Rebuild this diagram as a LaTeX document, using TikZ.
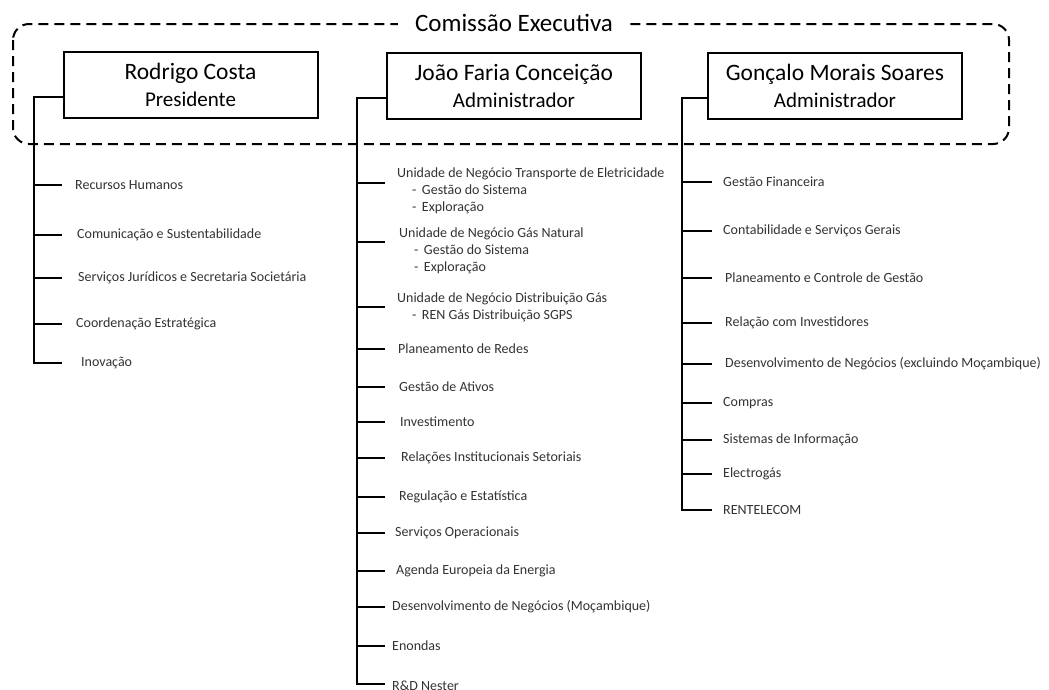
\documentclass[tikz,border=0pt]{standalone}
\usepackage{fontspec}
\setmainfont{Carlito}
\usepackage{tikz}

\tikzset{
  cabeca/.style = {draw, line width=2pt, minimum width=254pt, minimum height=66pt,
                   align=center, inner sep=0pt, font=\fontsize{23.5}{25}\selectfont},
  ramo/.style   = {line width=2pt},
  item/.style   = {anchor=west, inner sep=0pt, align=left, text=black!80,
                   font=\fontsize{14}{17}\selectfont},
}
\newcommand{\subpt}[1]{\hspace*{15pt}-\hspace{5.5pt}#1}
\newcommand{\cargo}[1]{{\fontsize{21}{25}\selectfont #1}}

\begin{document}
\begin{tikzpicture}[x=1pt, y=-1pt]
  \useasboundingbox[fill=white] (0,0) rectangle (1049,689);

  % comissao executiva
  \draw[line width=2pt, dash pattern=on 10pt off 6pt, rounded corners=16pt]
    (13,24) rectangle (1009,144);
  \node[fill=white, inner xsep=17pt, inner ysep=5pt, font=\fontsize{25}{30}\selectfont] (ce)
    at (514,23) {Comissão Executiva};

  \node[cabeca] (rc) at (190.5,85) {Rodrigo Costa\\[2pt] \cargo{Presidente}};
  \node[cabeca] (jf) at (514,85.5) {João Faria Conceição\\[2pt] \cargo{Administrador}};
  \node[cabeca] (gm) at (835,85.5) {Gonçalo Morais Soares\\[2pt] \cargo{Administrador}};

  % fim de cada ramo
  \coordinate (rc-fim) at (34,363);
  \coordinate (jf-fim) at (357,684);
  \coordinate (gm-fim) at (682,510);

  \draw[ramo] ([yshift=-12pt]rc.west) -| (rc-fim) -- ++(28,0);
  \draw[ramo] ([yshift=-12pt]jf.west) -| (jf-fim) -- ++(28,0);
  \draw[ramo] ([yshift=-12pt]gm.west) -| (gm-fim) -- ++(30,0);

  % presidente
  \node[item] (rh) at (75,185)  {Recursos Humanos};
  \node[item] (cs) at (77,235)  {Comunicação e Sustentabilidade};
  \node[item] (sj) at (78,278)  {Serviços Jurídicos e Secretaria Societária};
  \node[item] (co) at (76,324)  {Coordenação Estratégica};
  \node[item] (in) at (81,363)  {Inovação};

  \foreach \n in {rh,cs,sj,co}
    \draw[ramo] (rc-fim |- \n.west) -- ++(28,0);

  % joao faria conceicao
  \node[item] (te) at (397,191) {Unidade de Negócio Transporte de Eletricidade\\
    \subpt{Gestão do Sistema}\\ \subpt{Exploração}};
  \node[item] (gn) at (399,251) {Unidade de Negócio Gás Natural\\
    \subpt{Gestão do Sistema}\\ \subpt{Exploração}};
  \node[item] (dg) at (397,307) {Unidade de Negócio Distribuição Gás\\
    \subpt{REN Gás Distribuição SGPS}};
  \node[item] (pr) at (398,349) {Planeamento de Redes};
  \node[item] (ga) at (399,387) {Gestão de Ativos};
  \node[item] (iv) at (400,422) {Investimento};
  \node[item] (ri) at (401,458) {Relações Institucionais Setoriais};
  \node[item] (re) at (399,497) {Regulação e Estatística};
  \node[item] (so) at (395,533) {Serviços Operacionais};
  \node[item] (ae) at (396,571) {Agenda Europeia da Energia};
  \node[item] (dm) at (392,607) {Desenvolvimento de Negócios (Moçambique)};
  \node[item] (en) at (392,646) {Enondas};
  \node[item] (rd) at (392,686) {R\&D Nester};

  \draw[ramo] (jf-fim |- te.west) ++(0,-8) -- ++(28,0);
  \draw[ramo] (jf-fim |- gn.west) ++(0,-9) -- ++(28,0);
  \foreach \n in {dg,pr,ga,iv,ri,re,so,ae,dm,en}
    \draw[ramo] (jf-fim |- \n.west) -- ++(28,0);

  % goncalo morais soares
  \node[item] (gf) at (723,182) {Gestão Financeira};
  \node[item] (cg) at (723,231) {Contabilidade e Serviços Gerais};
  \node[item] (pc) at (725,278) {Planeamento e Controle de Gestão};
  \node[item] (ri2) at (725,323) {Relação com Investidores};
  \node[item] (dn) at (725,364) {Desenvolvimento de Negócios (excluindo Moçambique)};
  \node[item] (cp) at (723,403) {Compras};
  \node[item] (si) at (723,440) {Sistemas de Informação};
  \node[item] (el) at (723,474) {Electrogás};
  \node[item] (rt) at (723,510) {RENTELECOM};

  \foreach \n in {gf,cg,pc,ri2,dn,cp,si,el}
    \draw[ramo] (gm-fim |- \n.west) -- ++(30,0);
\end{tikzpicture}
\end{document}
